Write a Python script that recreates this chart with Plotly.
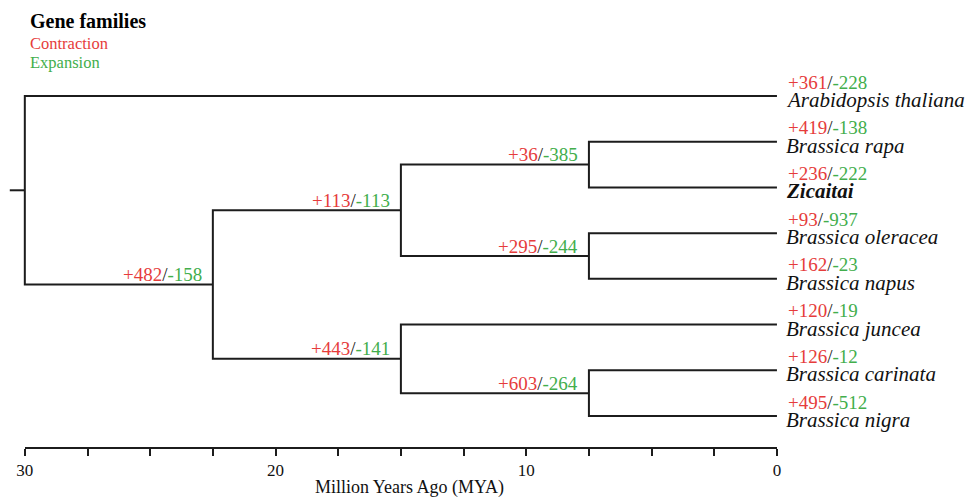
import plotly.graph_objects as go

# ---------------- data ----------------
species = ["Arabidopsis thaliana", "Brassica rapa", "Zicaitai", "Brassica oleracea",
           "Brassica napus", "Brassica juncea", "Brassica carinata", "Brassica nigra"]
leaf_gain = [361, 419, 236, 93, 162, 120, 126, 495]
leaf_loss = [228, 138, 222, 937, 23, 19, 12, 512]

node_ids = ["root", "brassica", "cladeA", "rapa_zicaitai", "oleracea_napus", "cladeB", "carinata_nigra"]
node_age = [30, 22.5, 15, 7.5, 7.5, 15, 7.5]
node_gain = [None, 482, 113, 36, 295, 443, 603]
node_loss = [None, 158, 113, 385, 244, 141, 264]
node_children = [["Arabidopsis thaliana", "brassica"],
                 ["cladeA", "cladeB"],
                 ["rapa_zicaitai", "oleracea_napus"],
                 ["Brassica rapa", "Zicaitai"],
                 ["Brassica oleracea", "Brassica napus"],
                 ["Brassica juncea", "carinata_nigra"],
                 ["Brassica carinata", "Brassica nigra"]]
root_stub = 0.6

tick_vals = [30, 27.5, 25, 22.5, 20, 17.5, 15, 12.5, 10, 7.5, 5, 2.5, 0]
tick_text = ["30", "", "", "", "20", "", "", "", "10", "", "", "", "0"]
axis_title = "Million Years Ago (MYA)"

# ---------------- style ----------------
RED = "#e63c3b"
GREEN = "#42ae4c"
INK = "#1c1c1c"
FONT = "Liberation Serif"

# ---------------- layout of tree ----------------
age = {s: 0.0 for s in species}
ypos = {s: float(i) for i, s in enumerate(species)}
children = dict(zip(node_ids, node_children))
for n, a in zip(node_ids, node_age):
    age[n] = a


def get_y(n):
    if n in ypos:
        return ypos[n]
    ys = [get_y(c) for c in children[n]]
    ypos[n] = sum(ys) / len(ys)
    return ypos[n]


get_y("root")

xs, ys = [], []
xs += [age["root"] + root_stub, age["root"], None]
ys += [ypos["root"], ypos["root"], None]
for n in node_ids:
    c1, c2 = children[n]
    xs += [age[c1], age[n], age[n], age[c2], None]
    ys += [ypos[c1], ypos[c1], ypos[c2], ypos[c2], None]


def count_label(g, l):
    return (f"<span style='color:{RED}'>+{g}</span>"
            f"<span style='color:{INK}'>/</span>"
            f"<span style='color:{GREEN}'>-{l}</span>")


fig = go.Figure()
fig.add_trace(go.Scatter(x=xs, y=ys, mode="lines",
                         line=dict(color=INK, width=2),
                         hoverinfo="skip", showlegend=False))
fig.add_trace(go.Scatter(x=[tick_vals[0], tick_vals[-1]], y=[7.7, 7.7],
                         xaxis="x2", yaxis="y", mode="markers",
                         marker=dict(opacity=0), hoverinfo="skip", showlegend=False))

ann = []
for i, s in enumerate(species):
    name = f"<i>{s}</i>" if s != "Zicaitai" else f"<b><i>{s}</i></b>"
    ann.append(dict(x=0, y=ypos[s], xref="x", yref="y", text=name, showarrow=False,
                    xanchor="left", yanchor="middle", xshift=8, yshift=-4, borderpad=0,
                    font=dict(family=FONT, size=21, color="#111")))
    ann.append(dict(x=0, y=ypos[s], xref="x", yref="y",
                    text=count_label(leaf_gain[i], leaf_loss[i]), showarrow=False,
                    xanchor="left", yanchor="middle", xshift=10, yshift=14, borderpad=0,
                    font=dict(family=FONT, size=19)))
for n, g, l in zip(node_ids, node_gain, node_loss):
    if g is None:
        continue
    ann.append(dict(x=age[n], y=ypos[n], xref="x", yref="y",
                    text=count_label(g, l), showarrow=False,
                    xanchor="right", yanchor="middle", xshift=-9, yshift=10,
                    font=dict(family=FONT, size=19)))

H = 448.0
ann.append(dict(x=28 / 970, y=1 - 21 / H, xref="paper", yref="paper", text="<b>Gene families</b>",
                showarrow=False, xanchor="left", yanchor="middle",
                font=dict(family=FONT, size=20, color="#000")))
ann.append(dict(x=28 / 970, y=1 - 43 / H, xref="paper", yref="paper", text="Contraction",
                showarrow=False, xanchor="left", yanchor="middle",
                font=dict(family=FONT, size=16.5, color=RED)))
ann.append(dict(x=28 / 970, y=1 - 62 / H, xref="paper", yref="paper", text="Expansion",
                showarrow=False, xanchor="left", yanchor="middle",
                font=dict(family=FONT, size=16.5, color=GREEN)))
# axis title
ann.append(dict(x=409 / 970, y=1 - 487 / H, xref="paper", yref="paper", text=axis_title,
                showarrow=False, xanchor="center", yanchor="middle", borderpad=0,
                font=dict(family=FONT, size=18, color="#111")))

xr = [30.99, -7.70]
dom0 = (xr[0] - tick_vals[0]) / (xr[0] - xr[1])
dom1 = (xr[0] - tick_vals[-1]) / (xr[0] - xr[1])

fig.update_layout(
    template="none",
    width=970, height=498,
    margin=dict(l=0, r=0, t=0, b=50, pad=0, autoexpand=False),
    paper_bgcolor="white", plot_bgcolor="rgba(0,0,0,0)",
    xaxis=dict(range=xr, visible=False, fixedrange=True, automargin=False),
    yaxis=dict(range=[7.7, -2.1], visible=False, fixedrange=True, automargin=False),
    xaxis2=dict(domain=[dom0, dom1], range=[tick_vals[0], tick_vals[-1]],
                anchor="free", position=0, automargin=False,
                showline=True, linewidth=2, linecolor=INK,
                ticks="outside", ticklen=7, tickwidth=2, tickcolor=INK,
                tickvals=tick_vals, ticktext=tick_text,
                tickfont=dict(family=FONT, size=17, color="#111"),
                showgrid=False, zeroline=False),
    annotations=ann,
    showlegend=False,
)

fig.write_html("out.html")
